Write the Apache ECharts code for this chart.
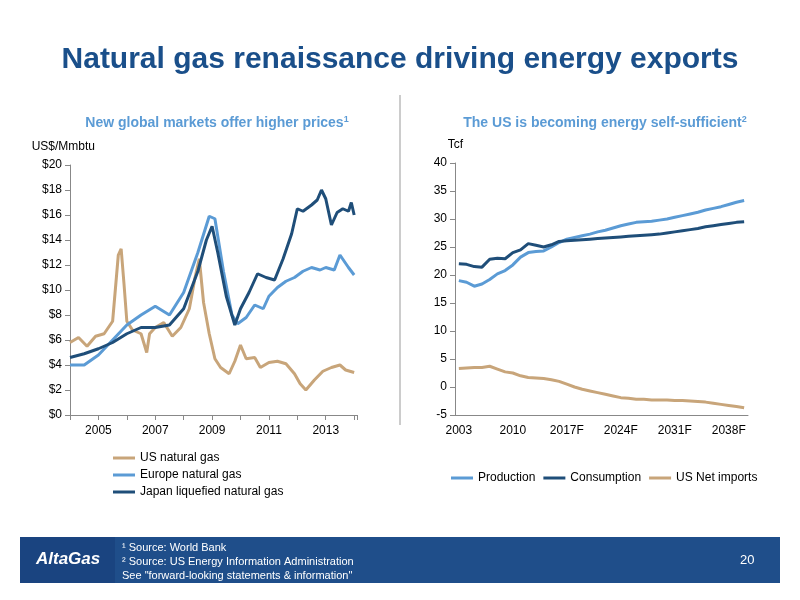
<!DOCTYPE html>
<html lang="en">
<head>
<meta charset="UTF-8">
<title>Natural gas renaissance</title>
<style>
  html, body { margin: 0; padding: 0; background: #fff; }
  #chart { width: 800px; height: 600px; }
</style>
</head>
<body>
<div id="chart"></div>
<script src="https://cdn.jsdelivr.net/npm/echarts@6/dist/echarts.min.js"></script>
<script>
// left chart: prices, x in fractional years
var usTime = [2004.0,2004.3,2004.6,2004.9,2005.2,2005.5,2005.7,2005.8,2005.9,2006.0,2006.2,2006.5,2006.7,2006.8,2007.0,2007.3,2007.6,2007.9,2008.2,2008.4,2008.55,2008.7,2008.9,2009.1,2009.3,2009.6,2009.8,2010.0,2010.2,2010.5,2010.7,2011.0,2011.3,2011.6,2011.9,2012.1,2012.3,2012.6,2012.9,2013.2,2013.5,2013.7,2014.0];
var usGas = [5.8,6.2,5.5,6.3,6.5,7.5,12.8,13.3,10.5,7.5,6.8,6.5,5.0,6.5,7.0,7.4,6.3,7.0,8.5,11.0,12.5,9.0,6.5,4.5,3.8,3.3,4.3,5.6,4.5,4.6,3.8,4.2,4.3,4.1,3.3,2.5,2.0,2.8,3.5,3.8,4.0,3.6,3.4];
var euTime = [2004.0,2004.5,2005.0,2005.5,2006.0,2006.5,2007.0,2007.5,2008.0,2008.5,2008.9,2009.1,2009.4,2009.7,2009.9,2010.2,2010.5,2010.8,2011.0,2011.3,2011.6,2011.9,2012.2,2012.5,2012.8,2013.0,2013.3,2013.5,2013.8,2014.0];
var euGas = [4.0,4.0,4.8,6.0,7.2,8.0,8.7,8.0,9.8,13.0,15.9,15.7,11.5,8.0,7.3,7.8,8.8,8.5,9.5,10.2,10.7,11.0,11.5,11.8,11.6,11.8,11.6,12.8,11.8,11.2];
var jpTime = [2004.0,2004.5,2005.0,2005.5,2006.0,2006.5,2007.0,2007.5,2008.0,2008.5,2008.8,2009.0,2009.2,2009.5,2009.8,2010.0,2010.3,2010.6,2010.9,2011.2,2011.5,2011.8,2012.0,2012.2,2012.5,2012.7,2012.85,2013.0,2013.2,2013.4,2013.6,2013.8,2013.9,2014.0];
var jpGas = [4.6,4.9,5.3,5.8,6.5,7.0,7.0,7.2,8.5,11.5,14.0,15.1,13.0,9.5,7.2,8.5,9.8,11.3,11.0,10.8,12.5,14.5,16.5,16.3,16.8,17.2,18.0,17.3,15.2,16.2,16.5,16.3,17.0,16.0];

// right chart: supply/demand, Tcf
var years = [];
for (var y = 2003; y <= 2040; y++) years.push(y <= 2012 ? String(y) : y + 'F');
var production = [19.0,18.7,18.0,18.4,19.2,20.2,20.8,21.8,23.2,24.0,24.2,24.3,25.0,25.8,26.4,26.7,27.0,27.3,27.7,28.0,28.4,28.8,29.1,29.4,29.5,29.6,29.8,30.0,30.3,30.6,30.9,31.2,31.6,31.9,32.2,32.6,33.0,33.3];
var consumption = [22.0,21.9,21.5,21.4,22.8,23.0,22.9,24.0,24.5,25.6,25.3,25.0,25.4,26.0,26.1,26.2,26.3,26.4,26.5,26.6,26.7,26.8,26.9,27.0,27.1,27.2,27.3,27.5,27.7,27.9,28.1,28.3,28.6,28.8,29.0,29.2,29.4,29.5];
var netImports = [3.3,3.4,3.5,3.5,3.7,3.2,2.7,2.5,2.0,1.7,1.6,1.5,1.3,1.0,0.5,0.0,-0.4,-0.7,-1.0,-1.3,-1.6,-1.9,-2.0,-2.2,-2.2,-2.3,-2.3,-2.3,-2.4,-2.4,-2.5,-2.6,-2.7,-2.9,-3.1,-3.3,-3.5,-3.7];

function pairs(xs, ys) { return xs.map(function (x, i) { return [x, ys[i]]; }); }

var tan = '#c8a57a', light = '#5b9bd5', dark = '#1f4e79';
var axisText = { color: '#000', fontSize: 12, fontFamily: 'Liberation Sans' };

var myChart = echarts.init(document.getElementById('chart'));
var option = {
  backgroundColor: '#fff',
  animation: false,
  textStyle: { fontFamily: 'Liberation Sans' },
  title: [
    { text: 'Natural gas renaissance driving energy exports', left: 'center', top: 40,
      textStyle: { color: '#1a4f8a', fontSize: 30, fontWeight: 'bold', fontFamily: 'Liberation Sans' } },
    { text: 'New global markets offer higher prices{s|1}', left: 212, top: 110, textAlign: 'center',
      textStyle: { color: '#5b9bd5', fontSize: 14, fontWeight: 'bold', rich: { s: { fontSize: 9, verticalAlign: 'top', color: '#5b9bd5', fontWeight: 'bold', padding: [0, 0, 8, 0] } } } },
    { text: 'The US is becoming energy self-sufficient{s|2}', left: 600, top: 110, textAlign: 'center',
      textStyle: { color: '#5b9bd5', fontSize: 14, fontWeight: 'bold', rich: { s: { fontSize: 9, verticalAlign: 'top', color: '#5b9bd5', fontWeight: 'bold', padding: [0, 0, 8, 0] } } } }
  ],
  grid: [
    { left: 70, right: 443, top: 165, bottom: 185 },
    { left: 455, right: 52, top: 163, bottom: 185 }
  ],
  legend: [
    { left: 108, top: 447, orient: 'vertical', itemGap: 5, itemWidth: 22, itemHeight: 3, icon: 'rect',
      textStyle: { fontSize: 12, color: '#000' },
      data: ['US natural gas', 'Europe natural gas', 'Japan liquefied natural gas'] },
    { left: 446, top: 467, itemGap: 8, itemWidth: 22, itemHeight: 3, icon: 'rect',
      textStyle: { fontSize: 12, color: '#000' },
      data: ['Production', 'Consumption', 'US Net imports'] }
  ],
  xAxis: [
    { gridIndex: 0, type: 'value', min: 2004, max: 2014.1, interval: 1,
      axisLine: { lineStyle: { color: '#888' } }, axisTick: { show: true, lineStyle: { color: '#888' } },
      splitLine: { show: false },
      axisLabel: Object.assign({ formatter: function (v) { return v % 2 === 1 ? String(v) : ''; }, margin: 10 }, axisText) },
    { gridIndex: 1, type: 'category', data: years, boundaryGap: true,
      axisLine: { onZero: false, lineStyle: { color: '#888' } }, axisTick: { interval: 6, lineStyle: { color: '#888' } },
      axisLabel: Object.assign({ interval: 6, margin: 10 }, axisText) }
  ],
  yAxis: [
    { gridIndex: 0, type: 'value', min: 0, max: 20, interval: 2, name: 'US$/Mmbtu',
      nameLocation: 'end', nameGap: 12, nameTextStyle: { color: '#000', fontSize: 12, align: 'right', padding: [0, -25, 0, 0] },
      axisLine: { show: true, lineStyle: { color: '#888' } }, axisTick: { show: true, lineStyle: { color: '#888' } },
      splitLine: { show: false },
      axisLabel: Object.assign({ formatter: '${value}' }, axisText) },
    { gridIndex: 1, type: 'value', min: -5, max: 40, interval: 5, name: 'Tcf',
      nameLocation: 'end', nameGap: 12, nameTextStyle: { color: '#000', fontSize: 12, align: 'right', padding: [0, -8, 0, 0] },
      axisLine: { show: true, lineStyle: { color: '#888' } }, axisTick: { show: true, lineStyle: { color: '#888' } },
      splitLine: { show: false },
      axisLabel: axisText }
  ],
  series: [
    { name: 'US natural gas', type: 'line', xAxisIndex: 0, yAxisIndex: 0, data: pairs(usTime, usGas),
      showSymbol: false, lineStyle: { color: tan, width: 3 }, itemStyle: { color: tan } },
    { name: 'Europe natural gas', type: 'line', xAxisIndex: 0, yAxisIndex: 0, data: pairs(euTime, euGas),
      showSymbol: false, lineStyle: { color: light, width: 3 }, itemStyle: { color: light } },
    { name: 'Japan liquefied natural gas', type: 'line', xAxisIndex: 0, yAxisIndex: 0, data: pairs(jpTime, jpGas),
      showSymbol: false, lineStyle: { color: dark, width: 3 }, itemStyle: { color: dark } },
    { name: 'Production', type: 'line', xAxisIndex: 1, yAxisIndex: 1, data: production,
      showSymbol: false, lineStyle: { color: light, width: 3 }, itemStyle: { color: light } },
    { name: 'Consumption', type: 'line', xAxisIndex: 1, yAxisIndex: 1, data: consumption,
      showSymbol: false, lineStyle: { color: dark, width: 3 }, itemStyle: { color: dark } },
    { name: 'US Net imports', type: 'line', xAxisIndex: 1, yAxisIndex: 1, data: netImports,
      showSymbol: false, lineStyle: { color: tan, width: 3 }, itemStyle: { color: tan } }
  ],
  graphic: [
    { type: 'line', shape: { x1: 400, y1: 95, x2: 400, y2: 425 }, style: { stroke: '#999', lineWidth: 1 } },
    { type: 'rect', shape: { x: 20, y: 537, width: 760, height: 46 }, style: { fill: '#1f4e8a' } },
    { type: 'rect', shape: { x: 20, y: 537, width: 95, height: 46 }, style: { fill: '#1a4480' } },
    { type: 'text', left: 36, top: 551, style: { text: 'AltaGas', fill: '#fff', font: 'italic bold 17px Liberation Sans' } },
    { type: 'text', left: 122, top: 541, style: { text: '¹ Source: World Bank\n² Source: US Energy Information Administration\nSee "forward-looking statements & information"', fill: '#fff', font: '11px Liberation Sans', lineHeight: 14 } },
    { type: 'text', left: 740, top: 554, style: { text: '20', fill: '#fff', font: '13px Liberation Sans' } }
  ]
};
myChart.setOption(option);
</script>
</body>
</html>
